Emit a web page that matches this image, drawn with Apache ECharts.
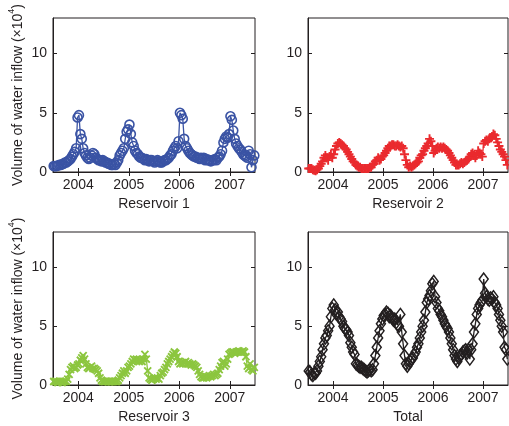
<!DOCTYPE html>
<html><head><meta charset="utf-8">
<script src="https://cdn.jsdelivr.net/npm/echarts@6/dist/echarts.min.js"></script>
<style>html,body{margin:0;padding:0;background:#fff}#c{width:509px;height:426px}</style>
</head><body><div id="c"></div>
<script>
// 10-day samples (36 per year) from mid-2003 to mid-2007
const startYear = 2003.5;
const samplesPerYear = 36;
const yearTicks = [2004, 2005, 2006, 2007];
const yTicks = [0, 5, 10];
const titles = ['Reservoir 1', 'Reservoir 2', 'Reservoir 3', 'Total'];

const reservoir1 = [
 0.5,0.5,0.5,0.55,0.6,0.6,0.65,0.7,0.8,0.8,0.9,1.0,1.1,1.3,1.5,1.7,2.0,4.6,
 4.8,3.2,2.8,2.0,1.6,1.4,1.2,1.1,1.2,1.4,1.6,1.5,1.2,1.1,1.0,1.0,0.9,1.0,0.9,0.8,0.8,0.7,0.7,0.6,0.6,0.7,0.6,0.8,1.0,1.4,1.6,1.8,2.0,2.8,3.4,3.6,
 4.0,3.2,2.5,2.2,1.8,1.6,1.5,1.3,1.2,1.2,1.1,1.0,1.1,1.0,0.9,1.0,1.0,0.9,0.8,0.9,1.0,0.9,0.8,0.8,0.9,1.0,1.0,1.1,1.2,1.4,1.5,1.8,2.0,2.2,2.0,2.6,
 5.0,4.8,4.5,2.8,2.2,2.0,1.8,1.6,1.5,1.4,1.3,1.3,1.2,1.2,1.1,1.2,1.1,1.2,1.0,1.1,1.0,1.0,0.9,1.0,1.0,1.1,1.0,1.2,1.3,1.5,1.8,2.5,2.8,3.0,2.9,3.2,
 4.7,4.4,3.5,2.8,2.4,2.2,2.0,1.9,1.7,1.5,1.4,1.3,1.2,1.8,1.5,0.4,1.0,1.4
];
const reservoir2 = [
 0.3,0.3,0.3,0.2,0.15,0.1,0.2,0.3,0.5,0.7,0.9,1.2,1.4,1.2,1.0,1.3,1.5,1.2,
 1.5,1.9,2.2,2.4,2.5,2.4,2.3,2.2,2.0,1.9,1.7,1.5,1.3,1.1,0.9,0.8,0.6,0.5,0.4,0.4,0.3,0.3,0.3,0.3,0.3,0.3,0.4,0.4,0.6,0.7,0.9,1.0,1.2,1.0,1.1,1.3,
 1.4,1.6,1.8,2.0,2.2,2.2,2.3,2.3,2.2,2.2,2.3,2.2,2.1,2.2,2.0,1.5,1.0,0.6,0.4,0.5,0.4,0.5,0.6,0.7,0.8,0.9,1.2,1.4,1.5,1.8,2.0,2.2,2.4,2.8,2.6,2.2,
 1.6,1.8,2.0,2.1,2.0,2.1,2.0,2.1,2.0,1.9,1.8,1.6,1.4,1.2,1.0,0.8,0.6,0.6,0.6,0.7,0.8,0.7,0.8,0.9,1.0,1.1,1.3,1.5,1.6,1.4,1.2,1.4,1.8,1.6,1.5,1.3,
 2.4,2.6,2.7,2.6,2.8,2.9,3.0,3.2,3.1,2.8,2.5,2.2,1.9,1.7,1.5,1.3,1.0,0.6
];
const reservoir3 = [
 0.3,0.3,0.3,0.2,0.3,0.3,0.2,0.3,0.3,0.3,0.5,0.9,1.3,1.5,1.6,1.4,1.5,1.7,
 1.8,2.1,2.3,2.5,2.2,1.8,1.5,1.4,1.5,1.6,1.4,1.4,1.3,1.2,1.0,0.6,0.4,0.3,0.3,0.3,0.3,0.3,0.3,0.3,0.3,0.3,0.3,0.3,0.4,0.6,0.8,1.0,1.2,1.0,1.2,1.5,
 1.6,1.8,2.0,2.2,2.1,2.2,2.1,2.0,2.1,2.0,2.2,2.6,2.2,1.2,0.6,0.5,0.4,0.5,0.6,0.5,0.6,0.5,0.8,1.0,1.1,1.3,1.5,1.8,2.0,2.2,2.4,2.6,2.8,2.7,2.4,2.0,
 1.8,1.9,1.8,1.9,2.0,1.8,1.9,1.8,1.7,1.8,1.7,1.6,1.5,1.2,0.9,0.7,0.6,0.6,0.7,0.6,0.7,0.8,0.7,0.8,0.9,0.8,0.9,1.0,1.3,1.6,1.9,2.0,1.6,1.8,2.2,2.6,
 2.7,2.8,2.8,2.7,2.8,2.8,2.9,2.8,2.8,2.9,2.8,2.4,1.6,1.4,1.8,1.3,1.2,1.5
];
const total = [
 1.2,1.1,0.9,0.8,1.0,1.0,1.2,1.6,2.0,2.4,3.0,3.5,4.0,4.2,4.6,5.0,5.8,6.5,
 6.8,6.4,6.0,6.2,5.8,5.6,5.4,5.0,4.8,4.7,4.5,4.2,3.6,3.2,2.8,2.6,1.8,1.7,1.6,1.5,1.5,1.4,1.3,1.2,1.1,1.2,1.3,1.2,1.3,1.8,2.5,3.2,4.0,4.6,5.2,5.6,
 5.9,6.0,6.2,6.1,5.8,5.9,5.7,5.5,5.6,5.3,5.1,5.0,6.0,4.5,3.5,2.5,1.8,1.6,1.8,2.0,2.2,2.3,2.6,2.8,3.2,3.5,4.0,4.5,5.0,5.5,6.2,7.0,7.3,7.6,8.0,8.6,
 8.8,7.5,7.0,6.5,6.3,6.0,5.8,5.5,5.2,5.0,4.8,4.5,4.0,3.5,3.0,2.5,2.2,2.0,2.3,2.5,2.6,2.8,2.9,3.0,2.7,3.0,2.2,3.0,3.5,4.5,5.2,6.0,6.5,6.8,7.0,7.2,
 9.0,7.8,7.5,7.3,7.2,7.4,7.3,7.5,7.0,6.8,6.5,6.0,5.5,5.0,4.5,3.2,3.0,2.2
];

const seriesValues = [reservoir1, reservoir2, reservoir3, total];
const colors = ['#3a53a4', '#ea2a2e', '#8cc63f', '#231f20'];
const symbols = ['circle', 'path://M0,5L10,5M5,0L5,10', 'path://M0,0L10,10M10,0L0,10', 'diamond'];
const symbolSizes = [9, 9, 7, [9, 12]];
const markerStroke = [1.6, 1.9, 1.9, 1.5];

const grids = [
  {left: 53, top: 18, width: 202, height: 154},
  {left: 308, top: 18, width: 200, height: 154},
  {left: 53, top: 232, width: 202, height: 153},
  {left: 308, top: 232, width: 200, height: 153}
];

const FONT = 'Liberation Sans, Arial, Helvetica, sans-serif';
const TXT = '#231f20';
const xAxes = [], yAxes = [], series = [];
grids.forEach((g, i) => {
  g.show = true; g.borderColor = '#231f20'; g.borderWidth = 1; g.backgroundColor = '#fff';
  xAxes.push({
    type: 'value', gridIndex: i, min: 2003.5, max: 2007.5, position: 'bottom',
    axisLine: {show: true, onZero: false, lineStyle: {color: '#231f20'}},
    axisTick: {show: true, inside: true, length: 4, customValues: yearTicks, lineStyle: {color: '#231f20'}},
    axisLabel: {customValues: yearTicks, formatter: v => String(v), fontSize: 14, fontFamily: FONT, color: TXT, margin: 6},
    splitLine: {show: false},
    name: titles[i], nameLocation: 'middle', nameGap: 25,
    nameTextStyle: {fontSize: 14, fontFamily: FONT, color: TXT}
  });
  xAxes.push({
    type: 'value', gridIndex: i, min: 2003.5, max: 2007.5, position: 'top',
    axisLine: {show: false},
    axisTick: {show: true, inside: true, length: 4, customValues: yearTicks, lineStyle: {color: '#231f20'}},
    axisLabel: {show: false}, splitLine: {show: false}
  });
  const yMain = {
    type: 'value', gridIndex: i, min: 0, max: 13, position: 'left',
    axisLine: {show: true, onZero: false, lineStyle: {color: '#231f20'}},
    axisTick: {show: true, inside: true, length: 4, customValues: yTicks, lineStyle: {color: '#231f20'}},
    axisLabel: {customValues: yTicks, formatter: v => String(v), fontSize: 14, fontFamily: FONT, color: TXT, margin: 6},
    splitLine: {show: false}
  };
  if (i % 2 === 0) {
    yMain.name = '{a|Volume of water inflow (\u00d710}{s|4}{a|)}';
    yMain.nameLocation = 'middle';
    yMain.nameGap = 28;
    yMain.nameRotate = 90;
    yMain.nameTextStyle = {
      fontFamily: FONT, color: TXT,
      rich: {
        a: {fontSize: 14, fontFamily: FONT, color: TXT, verticalAlign: 'bottom', lineHeight: 18},
        s: {fontSize: 9, fontFamily: FONT, color: TXT, verticalAlign: 'top', lineHeight: 18, padding: [0, 0, 6, 0]}
      }
    };
  }
  yAxes.push(yMain);
  yAxes.push({
    type: 'value', gridIndex: i, min: 0, max: 13, position: 'right',
    axisLine: {show: false},
    axisTick: {show: true, inside: true, length: 4, customValues: yTicks, lineStyle: {color: '#231f20'}},
    axisLabel: {show: false}, splitLine: {show: false}
  });
  const vals = seriesValues[i];
  const data = vals.map((v, k) => [startYear + (k + 0.5) / samplesPerYear, v]);
  series.push({
    type: 'line', xAxisIndex: 2 * i, yAxisIndex: 2 * i, data: data,
    symbol: symbols[i], symbolSize: symbolSizes[i], showAllSymbol: true,
    lineStyle: {color: colors[i], width: 1.3},
    itemStyle: {color: 'rgba(0,0,0,0)', borderColor: colors[i], borderWidth: markerStroke[i]},
    emphasis: {disabled: true}, animation: false, clip: true
  });
});

const chart = echarts.init(document.getElementById('c'), null, {renderer: 'canvas'});
chart.setOption({
  animation: false,
  backgroundColor: '#fff',
  grid: grids, xAxis: xAxes, yAxis: yAxes, series: series
});
</script></body></html>
